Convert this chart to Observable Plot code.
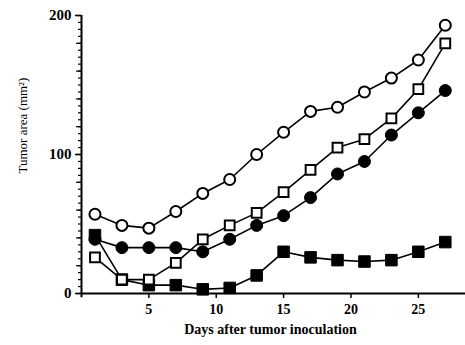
<!DOCTYPE html>
<html><head><meta charset="utf-8">
<script src="https://cdn.jsdelivr.net/npm/d3@7"></script>
<script src="https://cdn.jsdelivr.net/npm/@observablehq/plot@0.6"></script>
<style>body{margin:0;background:#fff}</style>
</head><body><div id="chart"></div>
<script>
const days = [1,3,5,7,9,11,13,15,17,19,21,23,25,27];
const openCircle   = [57,49,47,59,72,82,100,116,131,134,145,155,168,193];
const filledCircle = [39,33,33,33,30,39,49,56,69,86,95,114,130,146];
const openSquare   = [26,10,10,22,39,49,58,73,89,105,111,126,147,180];
const filledSquare = [42,10,6,6,3,4,13,30,26,24,23,24,30,37];
const xTicks = [5,10,15,20,25];
const yTicks = [0,100,200];
const yMinorTicks = d3.range(0, 201, 5);
const yMediumTicks = d3.range(0, 201, 20);
const xLabel = "Days after tumor inoculation";
const yLabel = "Tumor area (mm²)";

const series = [
  {name: "filledCircle", values: filledCircle, symbol: "circle", fill: "black", r: 6},
  {name: "filledSquare", values: filledSquare, symbol: "square", fill: "black", r: 6.5},
  {name: "openCircle", values: openCircle, symbol: "circle", fill: "white", r: 5.5},
  {name: "openSquare", values: openSquare, symbol: "square", fill: "white", r: 5.5}
];
const rows = series.flatMap(s => days.map((d, i) => ({day: d, value: s.values[i], name: s.name})));

const font = "'Liberation Serif', 'Times New Roman', serif";
const chart = Plot.plot({
  width: 465, height: 345,
  marginLeft: 81, marginRight: 0, marginTop: 15, marginBottom: 52,
  x: {domain: [0, 28.5]},
  y: {domain: [0, 200]},
  style: {fontFamily: font, background: "white", color: "black"},
  marks: [
    Plot.axisY(yMinorTicks, {tickSize: 3, tickFormat: () => "", label: null, strokeWidth: 1.2}),
    Plot.axisY(yMediumTicks, {tickSize: 5, tickFormat: () => "", label: null, strokeWidth: 1.2}),
    Plot.axisY(yTicks, {tickSize: 6, tickPadding: 4, fontSize: 15, fontWeight: "bold", label: null, strokeWidth: 1.5}),
    Plot.axisX(xTicks, {tickSize: 5, tickPadding: 6, fontSize: 14, fontWeight: "bold", label: null, strokeWidth: 1.5}),
    Plot.ruleY([0], {strokeWidth: 2}),
    Plot.ruleX([0], {y1: -3, y2: 200, strokeWidth: 2}),
    Plot.line(rows, {x: "day", y: "value", z: "name", stroke: "black", strokeWidth: 1.6}),
    ...series.map(s => Plot.dot(rows.filter(r => r.name === s.name), {
      x: "day", y: "value", symbol: s.symbol, r: s.r,
      fill: s.fill, stroke: "black", strokeWidth: s.fill === "white" ? 2 : 1
    })),
    Plot.text([xLabel], {frameAnchor: "bottom", dy: 36, dx: -3, fontSize: 14, fontWeight: "bold", lineAnchor: "middle"}),
    Plot.text([yLabel], {frameAnchor: "left", textAnchor: "start", dx: -59, dy: 19, rotate: -90, fontSize: 13, lineAnchor: "middle"})
  ]
});
document.getElementById("chart").append(chart);
</script>
</body></html>
